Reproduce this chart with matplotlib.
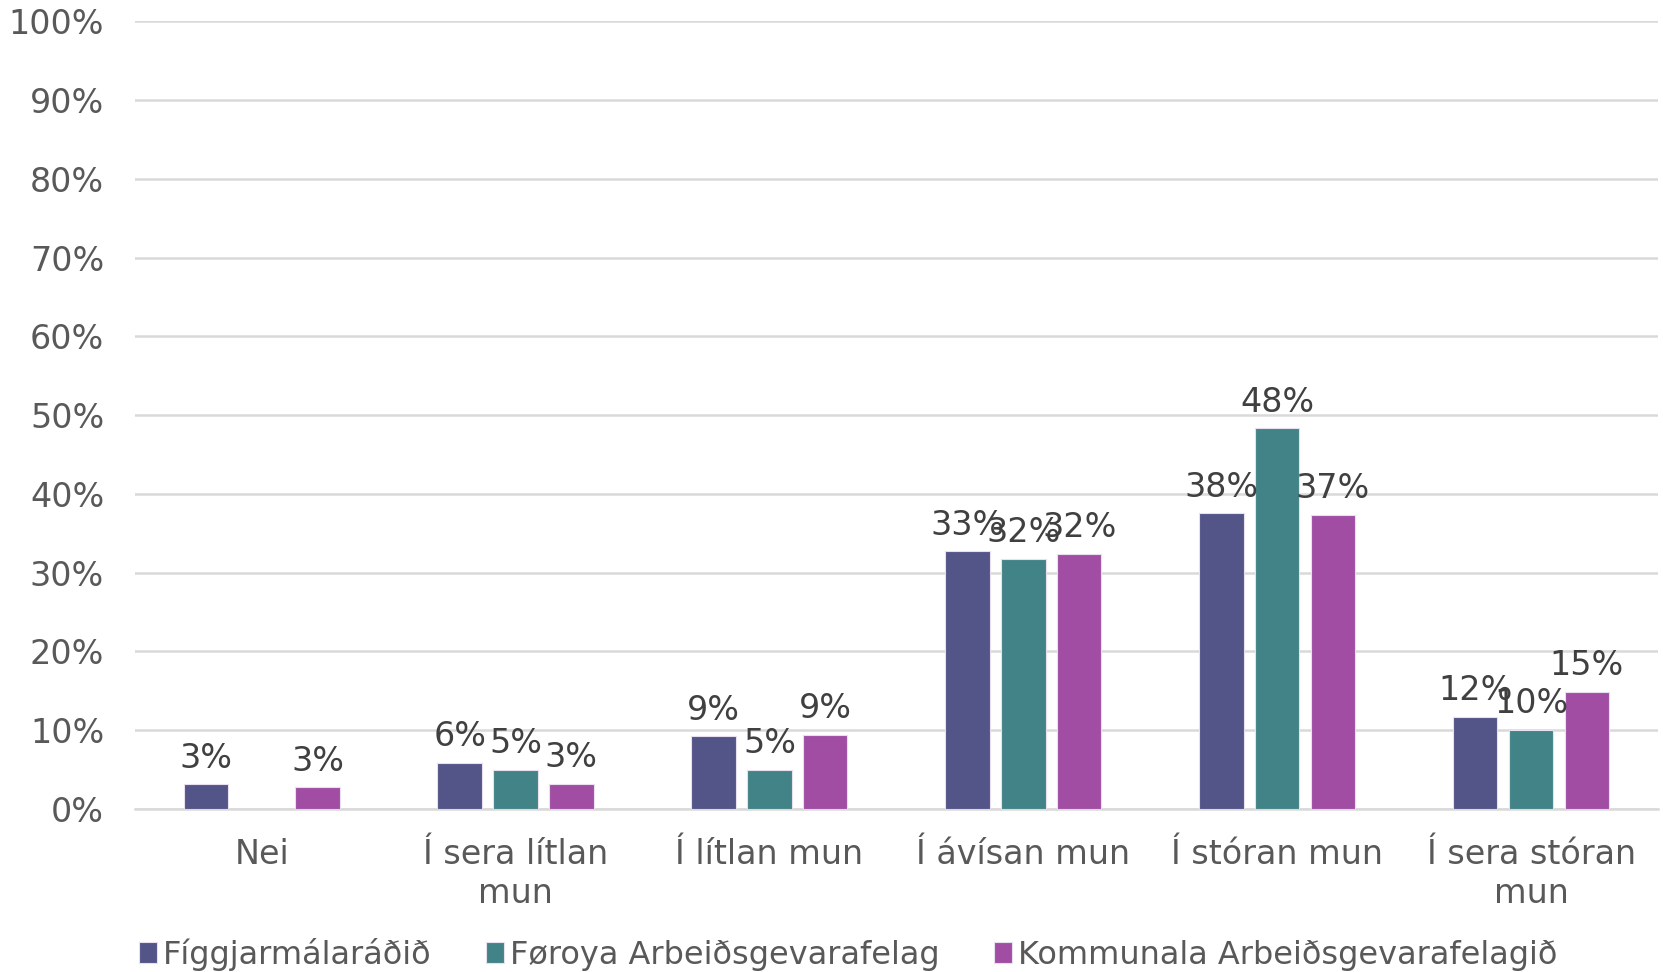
import matplotlib.pyplot as plt
import numpy as np

# Categories and series values (percent)
categories = ['Nei', 'Í sera lítlan\nmun', 'Í lítlan mun', 'Í ávísan mun', 'Í stóran mun', 'Í sera stóran\nmun']
series_names = ['Fíggjarmálaráðið', 'Føroya Arbeiðsgevarafelag', 'Kommunala Arbeiðsgevarafelagið']
figgjar = [3.1, 5.8, 9.2, 32.7, 37.5, 11.7]
foroya = [np.nan, 4.9, 4.9, 31.7, 48.3, 10.0]
kommunala = [2.7, 3.2, 9.4, 32.4, 37.3, 14.8]
colors = ['#535488', '#418386', '#a04da3']

plt.rcParams['font.family'] = ['DejaVu Sans']

fig = plt.figure(figsize=(16.63, 9.72), dpi=100)
ax = fig.add_axes([0.081, 0.168, 0.916, 0.81])

x = np.arange(len(categories))
width = 0.175
step = 0.22
for i, (vals, name, col) in enumerate(zip([figgjar, foroya, kommunala], series_names, colors)):
    pos = x + (i - 1) * step
    v = np.array(vals, dtype=float)
    ax.bar(pos, np.nan_to_num(v), width, color=col, label=name,
           edgecolor='#e8e0ee', linewidth=0.8, zorder=3)
    for p, val in zip(pos, v):
        if np.isnan(val):
            continue
        ax.annotate(f'{round(val):.0f}%', (p, val), xytext=(0, 7), textcoords='offset points',
                    ha='center', va='bottom', fontsize=24, color='#404040', zorder=4)

ax.set_xlim(-0.5, len(categories) - 0.5)
ax.set_ylim(0, 100)
ax.set_yticks(np.arange(0, 101, 10))
ax.set_yticklabels([f'{t}%' for t in range(0, 101, 10)])
ax.set_xticks(x)
ax.set_xticklabels(categories, linespacing=1.25)
ax.tick_params(axis='both', length=0, labelsize=24, colors='#595959')
ax.tick_params(axis='y', pad=22)
ax.tick_params(axis='x', pad=21)
ax.grid(axis='y', color='#d9d9d9', linewidth=1.8, zorder=0)
for s in ['top', 'right', 'left']:
    ax.spines[s].set_visible(False)
ax.spines['bottom'].set_color('#d9d9d9')
ax.spines['bottom'].set_linewidth(1.8)

leg = fig.legend(loc='center left', bbox_to_anchor=(0.076, 0.018), ncol=3, frameon=False,
                 fontsize=23, handlelength=0.55, handleheight=0.65, handletextpad=0.2,
                 columnspacing=1.7, borderaxespad=0)
for t in leg.get_texts():
    t.set_color('#595959')

fig.savefig('out.png', dpi=100)
